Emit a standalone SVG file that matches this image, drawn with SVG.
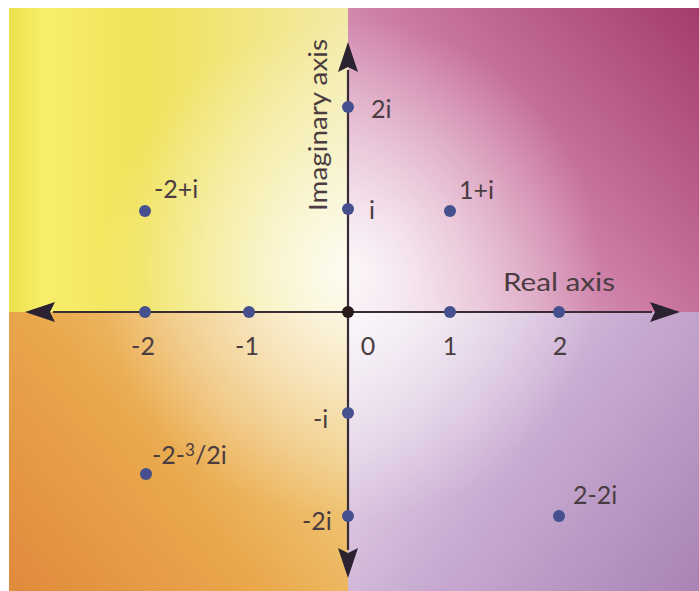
<svg xmlns="http://www.w3.org/2000/svg" width="699" height="591" viewBox="0 0 699 591">
<defs>
  <linearGradient id="gTL" x1="9" y1="0" x2="348" y2="0" gradientUnits="userSpaceOnUse">
    <stop offset="0" stop-color="#ece04a"/>
    <stop offset="0.1" stop-color="#f7ef6a"/>
    <stop offset="0.4" stop-color="#f0e25a"/>
    <stop offset="1" stop-color="#f3eaa8"/>
  </linearGradient>
  <linearGradient id="gTR" x1="348" y1="312" x2="699" y2="8" gradientUnits="userSpaceOnUse">
    <stop offset="0" stop-color="#eccfe2"/>
    <stop offset="0.5" stop-color="#cc7aa4"/>
    <stop offset="1" stop-color="#a33c6c"/>
  </linearGradient>
  <linearGradient id="gBL" x1="9" y1="591" x2="348" y2="312" gradientUnits="userSpaceOnUse">
    <stop offset="0" stop-color="#e08a3c"/>
    <stop offset="0.45" stop-color="#eaa84c"/>
    <stop offset="1" stop-color="#f4df9a"/>
  </linearGradient>
  <linearGradient id="gBR" x1="348" y1="312" x2="699" y2="591" gradientUnits="userSpaceOnUse">
    <stop offset="0" stop-color="#f0e4f0"/>
    <stop offset="0.5" stop-color="#c9acd2"/>
    <stop offset="1" stop-color="#a884b4"/>
  </linearGradient>
  <radialGradient id="glow" cx="350" cy="270" r="250" gradientUnits="userSpaceOnUse">
    <stop offset="0" stop-color="#ffffff" stop-opacity="0.85"/>
    <stop offset="0.45" stop-color="#ffffff" stop-opacity="0.45"/>
    <stop offset="1" stop-color="#ffffff" stop-opacity="0"/>
  </radialGradient>
  <marker id="ah" viewBox="0 0 30 20" refX="2" refY="10" markerWidth="30" markerHeight="20" markerUnits="userSpaceOnUse" orient="auto">
    <path d="M0,0 L30,10 L0,20 L5,10 Z" fill="#2a2230"/>
  </marker>
</defs>
<style>
  .ax { stroke: #3a2c34; stroke-width: 2.2; fill: none; }
  .pt { fill: #46508e; }
  .lb { font-family: "Lato", "Open Sans", "Liberation Sans", sans-serif; font-size: 25px; fill: #4a3c40; }
  .mid { text-anchor: middle; }
</style>
<rect width="699" height="591" fill="#ffffff"/>
<g id="background">
  <rect x="9" y="8" width="339" height="304" fill="url(#gTL)"/>
  <rect x="348" y="8" width="351" height="304" fill="url(#gTR)"/>
  <rect x="9" y="312" width="339" height="279" fill="url(#gBL)"/>
  <rect x="348" y="312" width="351" height="279" fill="url(#gBR)"/>
  <rect x="9" y="8" width="690" height="583" fill="url(#glow)"/>
</g>
<g id="connectors">
  <line id="real-axis-right" class="ax" x1="348" y1="312" x2="652" y2="312" marker-end="url(#ah)"/>
  <line id="real-axis-left" class="ax" x1="348" y1="312" x2="53" y2="312" marker-end="url(#ah)"/>
  <line id="imag-axis-up" class="ax" x1="348" y1="312" x2="348" y2="70" marker-end="url(#ah)"/>
  <line id="imag-axis-down" class="ax" x1="348" y1="312" x2="348" y2="550" marker-end="url(#ah)"/>
</g>
<g id="axis-labels">
  <text class="lb" x="503" y="291" textLength="112" lengthAdjust="spacingAndGlyphs">Real axis</text>
  <text class="lb" transform="translate(327,211) rotate(-90)" textLength="172" lengthAdjust="spacingAndGlyphs">Imaginary axis</text>
</g>
<g id="n-minus2"><circle class="pt" cx="145" cy="312" r="6"/><text class="lb mid" x="143" y="355">-2</text></g>
<g id="n-minus1"><circle class="pt" cx="249" cy="312" r="6"/><text class="lb mid" x="247" y="355">-1</text></g>
<g id="n-0"><circle cx="348" cy="312" r="6" fill="#2a1c1c"/><text class="lb mid" x="368" y="355">0</text></g>
<g id="n-1"><circle class="pt" cx="450" cy="312" r="6"/><text class="lb mid" x="450" y="355">1</text></g>
<g id="n-2"><circle class="pt" cx="559" cy="312" r="6"/><text class="lb mid" x="560" y="355">2</text></g>
<g id="n-2i"><circle class="pt" cx="348" cy="107" r="6"/><text class="lb" x="371" y="118">2i</text></g>
<g id="n-i"><circle class="pt" cx="348" cy="209" r="6"/><text class="lb" x="369" y="219">i</text></g>
<g id="n-minus-i"><circle class="pt" cx="348" cy="413" r="6"/><text class="lb" x="313" y="428">-i</text></g>
<g id="n-minus-2i"><circle class="pt" cx="348" cy="516" r="6"/><text class="lb" x="302" y="530">-2i</text></g>
<g id="n-minus2-plus-i"><circle class="pt" cx="145" cy="211" r="6"/><text class="lb" x="154" y="198">-2+i</text></g>
<g id="n-1-plus-i"><circle class="pt" cx="450" cy="211" r="6"/><text class="lb" x="459" y="199">1+i</text></g>
<g id="n-minus2-minus-3-2i"><circle class="pt" cx="146" cy="474" r="6"/><text class="lb" x="152" y="464">-2-<tspan font-size="17" dy="-8">3</tspan><tspan dy="8">/2i</tspan></text></g>
<g id="n-2-minus-2i"><circle class="pt" cx="559" cy="516" r="6"/><text class="lb" x="573" y="504">2-2i</text></g>
</svg>
